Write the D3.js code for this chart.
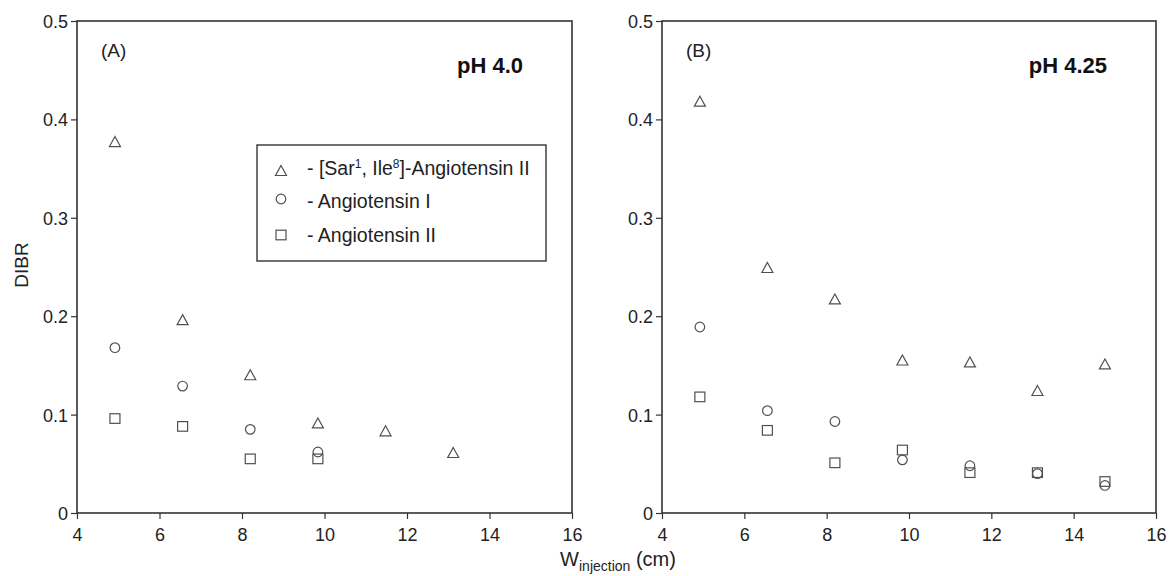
<!DOCTYPE html>
<html>
<head>
<meta charset="utf-8">
<script src="https://d3js.org/d3.v7.min.js"></script>
<style>
  body { margin: 0; background: #fff; }
  svg { font-family: "Liberation Sans", Arial, sans-serif; }
</style>
</head>
<body>
<div id="chart"></div>
<script>
// injection widths (cm)
const widths = [4.92, 6.56, 8.2, 9.84, 11.48, 13.12, 14.76];

// panel A, pH 4.0
const aSar = [0.377, 0.196, 0.140, 0.091, 0.083, 0.061];
const aAngI = [0.168, 0.129, 0.085, 0.062];
const aAngII = [0.096, 0.088, 0.055, 0.055];

// panel B, pH 4.25
const bSar = [0.418, 0.249, 0.217, 0.155, 0.153, 0.124, 0.151];
const bAngI = [0.189, 0.104, 0.093, 0.054, 0.048, 0.040, 0.028];
const bAngII = [0.118, 0.084, 0.051, 0.064, 0.041, 0.041, 0.032];

const xTicks = [4, 6, 8, 10, 12, 14, 16];
const yTicks = [0, 0.1, 0.2, 0.3, 0.4, 0.5];

const W = 1171, H = 576;
const svg = d3.select("#chart").append("svg").attr("width", W).attr("height", H);

const panels = [
  { left: 77, right: 572, tag: "(A)", ph: "pH 4.0", sar: aSar, angI: aAngI, angII: aAngII, legend: true },
  { left: 662, right: 1156, tag: "(B)", ph: "pH 4.25", sar: bSar, angI: bAngI, angII: bAngII, legend: false }
];
const plotTop = 21, plotBottom = 513;
const ink = "#222";
const markColor = "#505050";

function drawMarker(g, type, x, y) {
  if (type === "tri") {
    g.append("path")
      .attr("d", `M${x},${y - 5.5}L${x + 5.5},${y + 4.5}L${x - 5.5},${y + 4.5}Z`)
      .attr("fill", "none").attr("stroke", markColor).attr("stroke-width", 1.2);
  } else if (type === "circ") {
    g.append("circle").attr("cx", x).attr("cy", y).attr("r", 4.8)
      .attr("fill", "none").attr("stroke", markColor).attr("stroke-width", 1.2);
  } else {
    g.append("rect").attr("x", x - 5).attr("y", y - 4.8).attr("width", 10).attr("height", 9.6)
      .attr("fill", "none").attr("stroke", markColor).attr("stroke-width", 1.2);
  }
}

panels.forEach(p => {
  const x = d3.scaleLinear().domain([4, 16]).range([p.left, p.right]);
  const y = d3.scaleLinear().domain([0, 0.5]).range([plotBottom, plotTop]);
  const g = svg.append("g");

  g.append("rect")
    .attr("x", p.left).attr("y", plotTop)
    .attr("width", p.right - p.left).attr("height", plotBottom - plotTop)
    .attr("fill", "none").attr("stroke", "#333").attr("stroke-width", 1.6);

  const xAxis = g.append("g").attr("transform", `translate(0,${plotBottom})`)
    .call(d3.axisBottom(x).tickValues(xTicks).tickSize(6).tickSizeOuter(0).tickFormat(d3.format("d")));
  const yAxis = g.append("g").attr("transform", `translate(${p.left},0)`)
    .call(d3.axisLeft(y).tickValues(yTicks).tickSize(6).tickSizeOuter(0)
      .tickFormat(d => d === 0 ? "0" : d3.format(".1f")(d)));
  [xAxis, yAxis].forEach(a => {
    a.select(".domain").remove();
    a.selectAll("line").attr("stroke", "#333").attr("stroke-width", 1.2);
    a.selectAll("text").attr("fill", ink).style("font-size", "18px");
  });
  xAxis.selectAll("text").attr("y", 28).attr("dy", 0);
  yAxis.selectAll("text").attr("x", -9).attr("dy", "0.36em");

  g.append("text").attr("x", p.left + 24).attr("y", 57)
    .attr("fill", ink).style("font-size", "19px").text(p.tag);
  g.append("text").attr("x", p.right - 49).attr("y", 73)
    .attr("text-anchor", "end").attr("fill", "#111")
    .style("font-size", "22px").style("font-weight", "bold").text(p.ph);

  const pts = g.append("g");
  p.sar.forEach((v, i) => drawMarker(pts, "tri", x(widths[i]), y(v)));
  p.angI.forEach((v, i) => drawMarker(pts, "circ", x(widths[i]), y(v)));
  p.angII.forEach((v, i) => drawMarker(pts, "sq", x(widths[i]), y(v)));

  if (p.legend) {
    const lg = g.append("g");
    lg.append("rect").attr("x", 257).attr("y", 145).attr("width", 289).attr("height", 116)
      .attr("fill", "#fff").attr("stroke", "#333").attr("stroke-width", 1.4);
    const rows = [
      { type: "tri", y: 171 },
      { type: "circ", y: 199 },
      { type: "sq", y: 235 }
    ];
    rows.forEach(r => drawMarker(lg, r.type, 281, r.y));
    const t1 = lg.append("text").attr("x", 307).attr("y", 175).attr("fill", ink).style("font-size", "19.5px");
    t1.append("tspan").text("- [Sar");
    t1.append("tspan").attr("baseline-shift", "super").style("font-size", "12px").text("1");
    t1.append("tspan").text(", Ile");
    t1.append("tspan").attr("baseline-shift", "super").style("font-size", "12px").text("8");
    t1.append("tspan").text("]-Angiotensin II");
    lg.append("text").attr("x", 307).attr("y", 208).attr("fill", ink).style("font-size", "19.5px").text("- Angiotensin I");
    lg.append("text").attr("x", 307).attr("y", 242).attr("fill", ink).style("font-size", "19.5px").text("- Angiotensin II");
  }
});

svg.append("text")
  .attr("transform", "translate(28,265) rotate(-90)")
  .attr("text-anchor", "middle").attr("fill", ink).style("font-size", "19px").text("DIBR");

const xl = svg.append("text").attr("x", 618).attr("y", 566)
  .attr("text-anchor", "middle").attr("fill", ink).style("font-size", "20px");
xl.append("tspan").text("W");
xl.append("tspan").attr("dy", 5).style("font-size", "14px").text("injection");
xl.append("tspan").attr("dy", -5).text(" (cm)");
</script>
</body>
</html>
